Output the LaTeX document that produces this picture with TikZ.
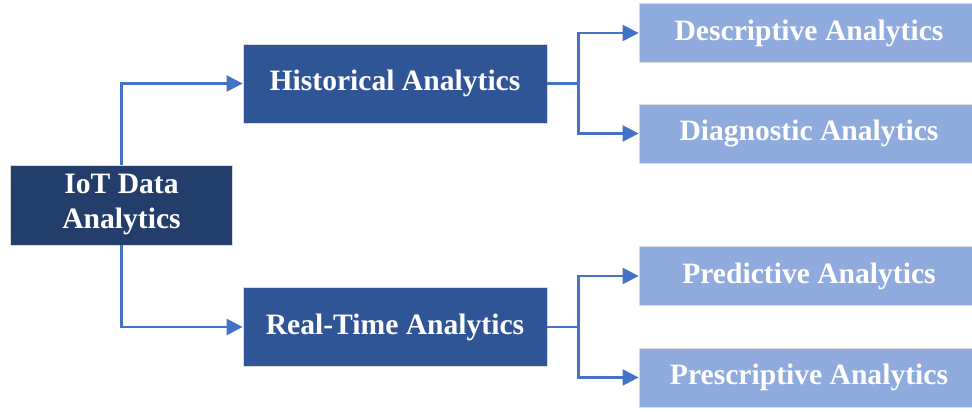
\documentclass[tikz,border=0pt]{standalone}
\usepackage{fontspec}
\setmainfont{Liberation Serif}
\usetikzlibrary{arrows.meta}
\definecolor{navy}{HTML}{243E6C}
\definecolor{midblue}{HTML}{2F5597}
\definecolor{lightblue}{HTML}{8FAADC}
\definecolor{linkblue}{HTML}{4472C4}
\tikzset{
  box/.style={rectangle, draw=black!14, line width=0.8pt, text=white,
    font=\fontsize{29.6}{35}\selectfont\bfseries, align=center, inner sep=0pt},
  rootbox/.style={box, fill=navy, minimum width=222pt, minimum height=80pt},
  midbox/.style={box, fill=midblue, minimum width=304pt, minimum height=79pt},
  leafbox/.style={box, fill=lightblue, minimum width=340pt, minimum height=59pt},
  conn/.style={draw=linkblue, line width=2.4pt,
    -{Triangle[length=16pt,width=16pt]}}
}
\begin{document}
\begin{tikzpicture}[x=1pt,y=-1pt]
  \useasboundingbox (0,0) rectangle (972,412);
  % main topic
  \node[rootbox] (root) at (121.5,205) {IoT Data\\Analytics};
  % analytics branches
  \node[midbox] (hist) at (395,83.5) {Historical Analytics};
  \node[midbox] (real) at (395,327) {Real-Time Analytics};
  % analytics types
  \node[leafbox] (desc) at (809,33) {Descriptive Analytics};
  \node[leafbox] (diag) at (809,133.5) {Diagnostic Analytics};
  \node[leafbox] (pred) at (809,276) {Predictive Analytics};
  \node[leafbox] (presc) at (809,377.5) {Prescriptive Analytics};
  % connectors
  \draw[conn] (root.north) |- (hist.west);
  \draw[conn] (root.south) |- (real.west);
  \draw[conn] (hist.east) -- ++(31,0) |- (desc.west);
  \draw[conn] (hist.east) -- ++(31,0) |- (diag.west);
  \draw[conn] (real.east) -- ++(31,0) |- (pred.west);
  \draw[conn] (real.east) -- ++(31,0) |- (presc.west);
\end{tikzpicture}
\end{document}
